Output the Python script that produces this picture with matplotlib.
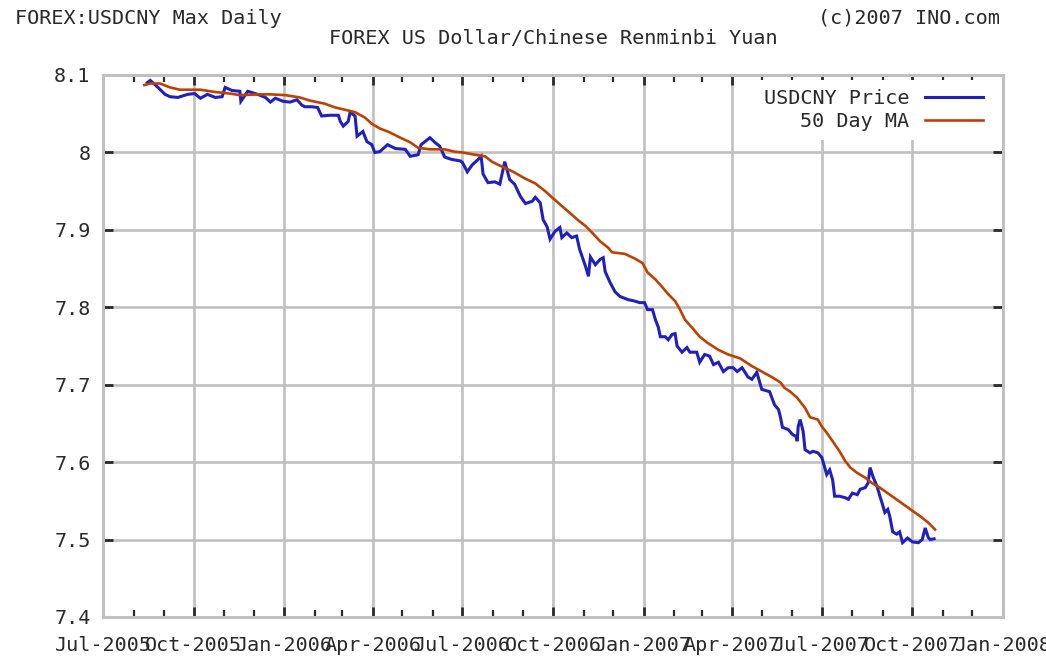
import matplotlib
matplotlib.use("Agg")
import matplotlib.pyplot as plt
import matplotlib.dates as mdates
import pandas as pd

# USDCNY daily price
price_dates = [
    "2005-08-15", "2005-08-18", "2005-08-25", "2005-09-02", "2005-09-07", "2005-09-15",
    "2005-09-25", "2005-10-02", "2005-10-08", "2005-10-15", "2005-10-23", "2005-10-30",
    "2005-11-02", "2005-11-09", "2005-11-17", "2005-11-18", "2005-11-25", "2005-12-05",
    "2005-12-13", "2005-12-18", "2005-12-23", "2005-12-31", "2006-01-07", "2006-01-14",
    "2006-01-19", "2006-01-22", "2006-01-29", "2006-02-04", "2006-02-08", "2006-02-16",
    "2006-02-25", "2006-02-27", "2006-03-02", "2006-03-07", "2006-03-09", "2006-03-14",
    "2006-03-16", "2006-03-22", "2006-03-26", "2006-03-31", "2006-04-03", "2006-04-08",
    "2006-04-16", "2006-04-24", "2006-05-04", "2006-05-09", "2006-05-17", "2006-05-20",
    "2006-05-29", "2006-06-03", "2006-06-08", "2006-06-13", "2006-06-20", "2006-06-29",
    "2006-07-01", "2006-07-06", "2006-07-11", "2006-07-17", "2006-07-20", "2006-07-22",
    "2006-07-27", "2006-08-03", "2006-08-08", "2006-08-13", "2006-08-18", "2006-08-23",
    "2006-08-29", "2006-09-03", "2006-09-10", "2006-09-13", "2006-09-18", "2006-09-21",
    "2006-09-25", "2006-09-28", "2006-10-03", "2006-10-08", "2006-10-10", "2006-10-15",
    "2006-10-20", "2006-10-25", "2006-10-28", "2006-11-03", "2006-11-06", "2006-11-08",
    "2006-11-13", "2006-11-18", "2006-11-21", "2006-11-23", "2006-11-28", "2006-12-03",
    "2006-12-08", "2006-12-16", "2006-12-23", "2006-12-28", "2007-01-02", "2007-01-05",
    "2007-01-10", "2007-01-13", "2007-01-16", "2007-01-18", "2007-01-23", "2007-01-26",
    "2007-01-30", "2007-02-02", "2007-02-04", "2007-02-09", "2007-02-14", "2007-02-17",
    "2007-02-24", "2007-02-27", "2007-03-04", "2007-03-09", "2007-03-13", "2007-03-18",
    "2007-03-23", "2007-03-28", "2007-04-02", "2007-04-06", "2007-04-11", "2007-04-17",
    "2007-04-21", "2007-04-26", "2007-04-29", "2007-05-01", "2007-05-09", "2007-05-11",
    "2007-05-14", "2007-05-18", "2007-05-20", "2007-05-22", "2007-05-28", "2007-06-01",
    "2007-06-05", "2007-06-06", "2007-06-07", "2007-06-09", "2007-06-12", "2007-06-14",
    "2007-06-19", "2007-06-22", "2007-06-27", "2007-07-01", "2007-07-04", "2007-07-06",
    "2007-07-09", "2007-07-12", "2007-07-14", "2007-07-19", "2007-07-25", "2007-07-28",
    "2007-08-01", "2007-08-06", "2007-08-09", "2007-08-14", "2007-08-17", "2007-08-19",
    "2007-08-22", "2007-08-26", "2007-08-29", "2007-08-31", "2007-09-03", "2007-09-06",
    "2007-09-08", "2007-09-11", "2007-09-15", "2007-09-18", "2007-09-21", "2007-09-26",
    "2007-10-01", "2007-10-07", "2007-10-11", "2007-10-14", "2007-10-17", "2007-10-19",
    "2007-10-23",
]
price_vals = [
    8.090, 8.093, 8.085, 8.075, 8.072, 8.071,
    8.075, 8.076, 8.070, 8.075, 8.071, 8.072,
    8.084, 8.080, 8.079, 8.066, 8.079, 8.075,
    8.071, 8.065, 8.070, 8.066, 8.065, 8.068,
    8.061, 8.059, 8.059, 8.058, 8.047, 8.048,
    8.048, 8.040, 8.034, 8.040, 8.052, 8.047,
    8.021, 8.027, 8.014, 8.010, 8.000, 8.001,
    8.010, 8.005, 8.004, 7.995, 7.997, 8.010,
    8.019, 8.013, 8.008, 7.994, 7.991, 7.989,
    7.987, 7.975, 7.984, 7.991, 7.995, 7.972,
    7.961, 7.962, 7.959, 7.988, 7.965, 7.959,
    7.943, 7.934, 7.937, 7.942, 7.935, 7.913,
    7.904, 7.888, 7.898, 7.903, 7.890, 7.896,
    7.890, 7.892, 7.875, 7.853, 7.840, 7.865,
    7.855, 7.862, 7.864, 7.846, 7.832, 7.820,
    7.814, 7.810, 7.808, 7.806, 7.806, 7.797,
    7.797, 7.784, 7.774, 7.762, 7.762, 7.758,
    7.765, 7.766, 7.750, 7.742, 7.748, 7.742,
    7.742, 7.729, 7.739, 7.737, 7.726, 7.729,
    7.717, 7.722, 7.722, 7.717, 7.722, 7.710,
    7.707, 7.716, 7.703, 7.694, 7.691, 7.684,
    7.674, 7.668, 7.658, 7.645, 7.642, 7.636,
    7.633, 7.627, 7.646, 7.655, 7.640, 7.616,
    7.612, 7.614, 7.612, 7.606, 7.593, 7.584,
    7.590, 7.577, 7.556, 7.556, 7.554, 7.552,
    7.560, 7.558, 7.565, 7.567, 7.573, 7.593,
    7.581, 7.569, 7.556, 7.548, 7.535, 7.539,
    7.530, 7.510, 7.507, 7.510, 7.496, 7.502,
    7.497, 7.496, 7.500, 7.515, 7.503, 7.500,
    7.501,
]

# 50 day moving average
ma_dates = [
    "2005-08-12", "2005-08-18", "2005-08-28", "2005-09-07", "2005-09-17", "2005-10-08",
    "2005-10-23", "2005-11-07", "2005-11-17", "2005-12-07", "2005-12-18", "2006-01-02",
    "2006-01-17", "2006-01-27", "2006-02-11", "2006-02-22", "2006-03-04", "2006-03-14",
    "2006-03-24", "2006-03-31", "2006-04-08", "2006-04-18", "2006-04-29", "2006-05-09",
    "2006-05-17", "2006-05-29", "2006-06-13", "2006-06-23", "2006-07-01", "2006-07-14",
    "2006-07-24", "2006-07-31", "2006-08-08", "2006-08-15", "2006-08-23", "2006-09-03",
    "2006-09-13", "2006-09-23", "2006-09-30", "2006-10-08", "2006-10-18", "2006-10-26",
    "2006-11-03", "2006-11-10", "2006-11-18", "2006-11-26", "2006-11-30", "2006-12-13",
    "2006-12-23", "2006-12-31", "2007-01-05", "2007-01-13", "2007-01-20", "2007-01-26",
    "2007-02-02", "2007-02-07", "2007-02-12", "2007-02-19", "2007-02-27", "2007-03-07",
    "2007-03-18", "2007-03-28", "2007-04-09", "2007-04-21", "2007-05-01", "2007-05-11",
    "2007-05-20", "2007-05-24", "2007-05-30", "2007-06-06", "2007-06-14", "2007-06-19",
    "2007-06-27", "2007-07-01", "2007-07-06", "2007-07-12", "2007-07-19", "2007-07-25",
    "2007-07-30", "2007-08-06", "2007-08-14", "2007-08-21", "2007-08-29", "2007-09-08",
    "2007-09-18", "2007-09-29", "2007-10-09", "2007-10-17", "2007-10-24",
]
ma_vals = [
    8.087, 8.089, 8.089, 8.084, 8.081, 8.081,
    8.078, 8.076, 8.074, 8.075, 8.075, 8.074,
    8.071, 8.067, 8.063, 8.058, 8.055, 8.052,
    8.045, 8.037, 8.031, 8.026, 8.019, 8.013,
    8.006, 8.004, 8.004, 8.001, 8.000, 7.997,
    7.995, 7.988, 7.983, 7.979, 7.974, 7.966,
    7.960, 7.950, 7.942, 7.933, 7.922, 7.913,
    7.905, 7.896, 7.885, 7.877, 7.871, 7.869,
    7.863, 7.857, 7.845, 7.836, 7.826, 7.817,
    7.808, 7.797, 7.784, 7.774, 7.762, 7.754,
    7.745, 7.739, 7.734, 7.724, 7.717, 7.710,
    7.703, 7.696, 7.691, 7.683, 7.670, 7.658,
    7.655, 7.646, 7.638, 7.627, 7.614, 7.601,
    7.593, 7.586, 7.580, 7.573, 7.567, 7.558,
    7.549, 7.539, 7.530, 7.522, 7.513,
]

y_ticks = [7.4, 7.5, 7.6, 7.7, 7.8, 7.9, 8.0, 8.1]
y_labels = ["7.4", "7.5", "7.6", "7.7", "7.8", "7.9", "8", "8.1"]

GREY = "#c0c0c0"
DARK = "#2a2a2a"
FONT = "DejaVu Sans Mono"
FS = 14.5

plt.rcParams["font.family"] = FONT

fig = plt.figure(figsize=(10.46, 6.59), dpi=100)
ax = fig.add_axes([103 / 1046, 1 - 617 / 659, 900 / 1046, 542 / 659])

ax.plot(pd.to_datetime(price_dates), price_vals, color="#2020c0", lw=2.2,
        label="USDCNY Price", solid_joinstyle="miter")
ax.plot(pd.to_datetime(ma_dates), ma_vals, color="#c04000", lw=1.9,
        label="50 Day MA")

ax.set_xlim(pd.Timestamp("2005-07-01"), pd.Timestamp("2008-01-01"))
ax.set_ylim(7.4, 8.1)

ax.xaxis.set_major_locator(mdates.MonthLocator(bymonth=[1, 4, 7, 10]))
ax.xaxis.set_major_formatter(mdates.DateFormatter("%b-%Y"))
ax.xaxis.set_minor_locator(mdates.MonthLocator())
ax.set_yticks(y_ticks)
ax.set_yticklabels(y_labels)

ax.set_axisbelow(True)
ax.grid(True, which="major", color=GREY, lw=1.9)
for s in ax.spines.values():
    s.set_color(GREY)
    s.set_linewidth(2.2)

ax.tick_params(which="both", direction="in", color=DARK, top=True, right=True,
               labelcolor=DARK, labelsize=FS)
ax.tick_params(which="major", length=7, width=2)
ax.tick_params(which="minor", length=5, width=1.6)
ax.tick_params(axis="x", pad=14)
ax.tick_params(axis="y", pad=9)

leg = ax.legend(loc="upper right", bbox_to_anchor=(992 / 1046, 1 - 80 / 659),
                bbox_transform=fig.transFigure, borderaxespad=0, markerfirst=False,
                frameon=True, facecolor="white", edgecolor="none", framealpha=1,
                fancybox=False, handlelength=2.9, handletextpad=0.75,
                labelspacing=0.2, borderpad=0.45, prop={"family": FONT, "size": FS})
for t in leg.get_texts():
    t.set_color(DARK)
    t.set_ha("right")

fig.text(15 / 1046, 1 - 18 / 659, "FOREX:USDCNY Max Daily", fontsize=FS,
         color=DARK, ha="left", va="center")
fig.text(1000 / 1046, 1 - 18 / 659, "(c)2007 INO.com", fontsize=FS,
         color=DARK, ha="right", va="center")
fig.text(553 / 1046, 1 - 39 / 659, "FOREX US Dollar/Chinese Renminbi Yuan",
         fontsize=FS, color=DARK, ha="center", va="center")

fig.savefig("out.png", dpi=100)
